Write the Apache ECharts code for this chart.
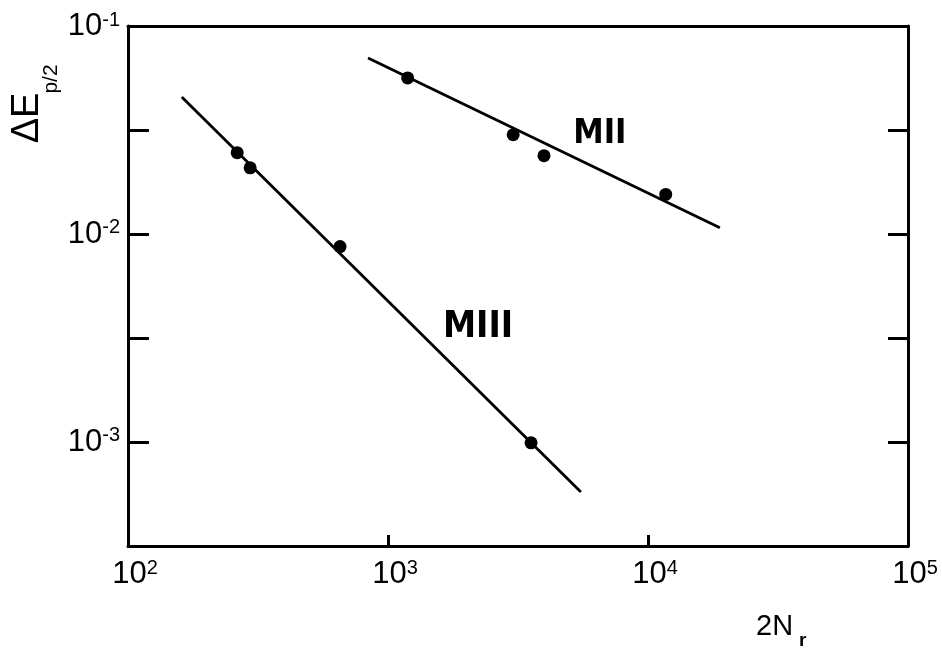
<!DOCTYPE html>
<html><head><meta charset="utf-8">
<script src="https://cdn.jsdelivr.net/npm/echarts@6/dist/echarts.min.js"></script>
<style>html,body{margin:0;padding:0;background:#fff}#c{width:942px;height:648px}</style>
</head><body><div id="c"></div>
<script>
// ---- data ----
const miiX = [1190, 3030, 3980, 11700];
const miiY = [0.0563, 0.0300, 0.0238, 0.0155];
const miiFitX = [838, 18900];
const miiFitY = [0.0702, 0.0107];
const miiiX = [263, 295, 654, 3550];
const miiiY = [0.0246, 0.0208, 0.0087, 0.00099];
const miiiFitX = [161, 5520];
const miiiFitY = [0.0456, 0.000574];
const seriesNames = ['MII', 'MIII'];
const labelAnchorX = [6530, 2220];
const labelAnchorY = [0.0303, 0.00356];
const xRange = [100, 100000];
const yRange = [0.000316, 0.1];
const xLabelValues = [100, 1000, 10000, 100000];
const xTickValues = [1000, 10000];
const yLabelValues = [0.001, 0.01, 0.1];
const yTickValues = [0.001, 0.00316, 0.01, 0.0316];

const pairs = (xs, ys) => xs.map((x, i) => [x, ys[i]]);
const FONT = "'Liberation Sans', 'DejaVu Sans', sans-serif";
const INK = '#000';
const powLabel = v => '{b|10}{s|' + Math.round(Math.log10(v)) + '}';
const richPow = {
  b: { fontSize: 31, fontFamily: FONT, color: INK, lineHeight: 32, verticalAlign: 'bottom' },
  s: { fontSize: 20, fontFamily: FONT, color: INK, lineHeight: 32, verticalAlign: 'top', padding: [0, 0, 12, 0] }
};
const axLine = { show: true, lineStyle: { color: INK, width: 3 } };

const chart = echarts.init(document.getElementById('c'));
chart.setOption({
  animation: false,
  backgroundColor: '#fff',
  grid: { left: 128, right: 34, top: 26, bottom: 102 },
  xAxis: [
    { type: 'log', position: 'bottom', min: xRange[0], max: xRange[1],
      axisLine: axLine, splitLine: { show: false },
      axisTick: { show: true, inside: true, length: 11, customValues: xTickValues, lineStyle: { color: INK, width: 3 } },
      axisLabel: { show: true, customValues: xLabelValues, margin: 12, formatter: powLabel, rich: richPow, padding: [0, 0, 0, 14] } },
    { type: 'log', position: 'top', min: xRange[0], max: xRange[1],
      axisLine: axLine, splitLine: { show: false }, axisTick: { show: false }, axisLabel: { show: false } }
  ],
  yAxis: [
    { type: 'log', position: 'left', min: yRange[0], max: yRange[1],
      axisLine: axLine, splitLine: { show: false },
      axisTick: { show: true, inside: true, length: 21, customValues: yTickValues, lineStyle: { color: INK, width: 3 } },
      axisLabel: { show: true, customValues: yLabelValues, margin: 8, formatter: powLabel, rich: richPow } },
    { type: 'log', position: 'right', min: yRange[0], max: yRange[1],
      axisLine: axLine, splitLine: { show: false },
      axisTick: { show: true, inside: true, length: 20, customValues: yTickValues, lineStyle: { color: INK, width: 3 } },
      axisLabel: { show: false } }
  ],
  series: [
    { name: seriesNames[0] + ' fit', type: 'line', data: pairs(miiFitX, miiFitY), showSymbol: false,
      lineStyle: { color: INK, width: 2.8 }, z: 2 },
    { name: seriesNames[1] + ' fit', type: 'line', data: pairs(miiiFitX, miiiFitY), showSymbol: false,
      lineStyle: { color: INK, width: 2.8 }, z: 2 },
    { name: seriesNames[0], type: 'scatter', data: pairs(miiX, miiY), symbolSize: 13,
      itemStyle: { color: INK, opacity: 1 }, z: 3 },
    { name: seriesNames[1], type: 'scatter', data: pairs(miiiX, miiiY), symbolSize: 13,
      itemStyle: { color: INK, opacity: 1 }, z: 3 },
    { name: 'labels', type: 'scatter', symbolSize: 1, itemStyle: { color: 'rgba(0,0,0,0)', opacity: 1 },
      data: seriesNames.map((n, i) => ({ name: n, value: [labelAnchorX[i], labelAnchorY[i]],
        label: { fontSize: i === 0 ? 34 : 37 } })),
      label: { show: true, position: 'inside', formatter: p => p.name, color: INK, opacity: 1, fontWeight: 'bold',
        textBorderWidth: 0,
        fontFamily: "'Liberation Sans Narrow', 'DejaVu Sans Condensed', 'Liberation Sans', sans-serif" } }
  ],
  graphic: [
    { type: 'text', x: 28, y: 118, rotation: Math.PI / 2,
      style: { text: 'ΔE', font: "38px 'Liberation Sans', sans-serif", fill: INK, align: 'center', verticalAlign: 'middle' } },
    { type: 'text', x: 51, y: 79, rotation: Math.PI / 2,
      style: { text: 'p/2', font: "21px 'Liberation Sans', sans-serif", fill: INK, align: 'center', verticalAlign: 'middle' } },
    { type: 'text', x: 756, y: 627,
      style: { text: '2N', font: "29px 'Liberation Sans', sans-serif", fill: INK, align: 'left', verticalAlign: 'middle' } },
    { type: 'text', x: 799, y: 641,
      style: { text: 'r', font: "bold 19px 'Liberation Sans', sans-serif", fill: INK, align: 'left', verticalAlign: 'middle' } }
  ]
});
</script>
</body></html>
